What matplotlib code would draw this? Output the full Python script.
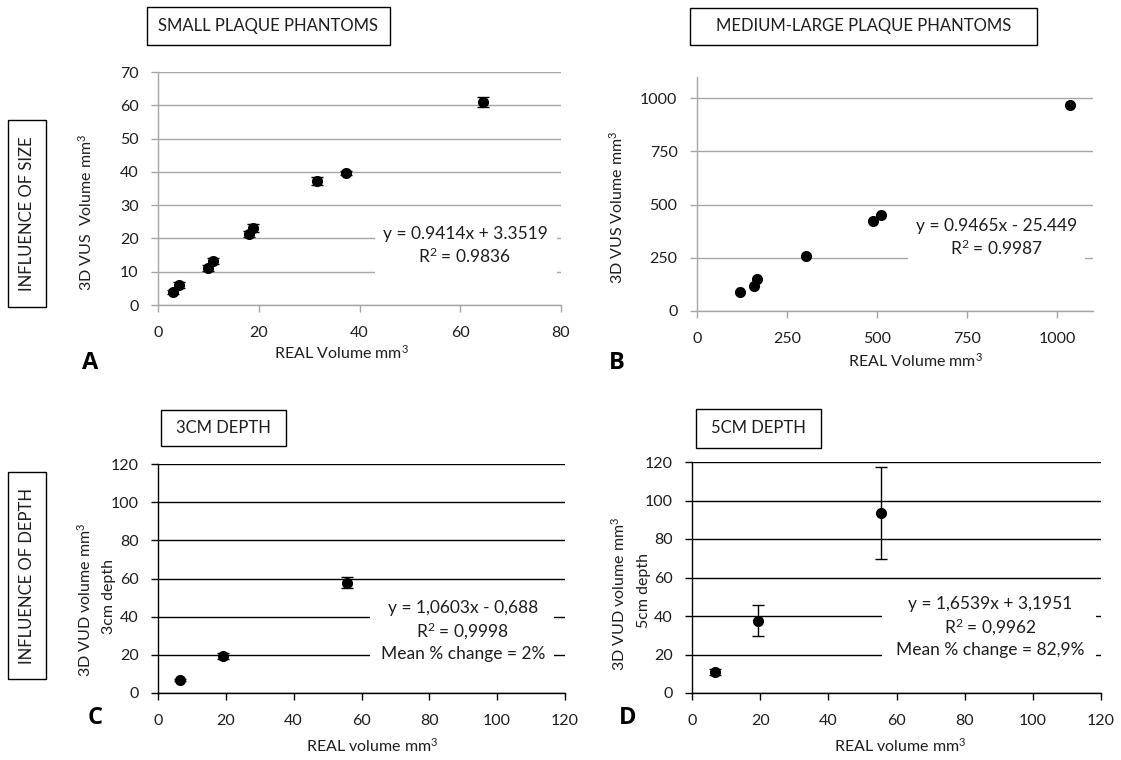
import numpy as np
import matplotlib
matplotlib.use("Agg")
import matplotlib.pyplot as plt
from matplotlib.patches import Rectangle

plt.rcParams['font.family'] = ['Lato', 'DejaVu Sans']
plt.rcParams['mathtext.fontset'] = 'custom'
plt.rcParams['mathtext.rm'] = 'Lato'
plt.rcParams['mathtext.it'] = 'Lato'
plt.rcParams['mathtext.default'] = 'regular'

# panel A: small plaque phantoms
a_real = [3.0, 4.2, 9.9, 11.0, 18.1, 18.9, 31.5, 37.4, 64.6]
a_vus = [4.0, 6.0, 11.2, 13.2, 21.3, 23.1, 37.3, 39.7, 60.9]
a_err = [0.6, 1.0, 0.9, 0.8, 0.9, 1.3, 1.3, 0.5, 1.5]

# panel B: medium-large plaque phantoms
b_real = [120, 158, 166, 302, 489, 512, 1036]
b_vus = [89, 118, 149, 257, 425, 450, 968]

# panel C: 3 cm depth
c_real = [6.4, 19.3, 55.6]
c_vud = [6.6, 19.2, 57.9]
c_err = [0.5, 1.5, 3.0]

# panel D: 5 cm depth
d_real = [6.8, 19.4, 55.4]
d_vud = [10.9, 37.5, 93.5]
d_err = [1.5, 8.0, 24.0]

W, H = 1121, 760
fig = plt.figure(figsize=(W / 100, H / 100), dpi=100)
TXT = '#1e1e1e'


def rect(l, t, r, b):
    return [l / W, 1 - b / H, (r - l) / W, (b - t) / H]


def pt(x, y):
    return x / W, 1 - y / H


def panel(box, xs, ys, err, xlim, xticks, ylim, yticks, gcol):
    ax = fig.add_axes(rect(*box))
    ax.set_xlim(*xlim)
    ax.set_ylim(*ylim)
    ax.set_xticks(xticks)
    ax.set_yticks(yticks)
    for y in yticks:
        ax.axhline(y, color=gcol, lw=1.0, zorder=1)
    for s in ['top', 'right']:
        ax.spines[s].set_visible(False)
    for s in ['left', 'bottom']:
        ax.spines[s].set_color(gcol)
        ax.spines[s].set_linewidth(1.0)
    ax.tick_params(axis='both', colors=gcol, labelcolor=TXT, length=5, width=1.0, labelsize=11.5)
    ax.tick_params(axis='y', pad=9)
    ax.tick_params(axis='x', pad=10)
    if err is None:
        ax.plot(xs, ys, 'o', color='black', ms=7, zorder=5, clip_on=False)
    else:
        ax.errorbar(xs, ys, yerr=err, fmt='o', color='black', ms=7, capsize=4,
                    elinewidth=1.0, capthick=1.0, zorder=5)
    return ax


axA = panel((158, 72, 561, 305), a_real, a_vus, a_err, (0, 80), np.arange(0, 81, 20),
            (0, 70), np.arange(0, 71, 10), '#a6a6a6')
axB = panel((697, 77, 1093, 311), b_real, b_vus, None, (0, 1100), np.arange(0, 1001, 250),
            (0, 1100), np.arange(0, 1001, 250), '#a6a6a6')
axC = panel((158, 464, 565, 693), c_real, c_vud, c_err, (0, 120), np.arange(0, 121, 20),
            (0, 120), np.arange(0, 121, 20), 'black')
axD = panel((692, 462, 1101, 693), d_real, d_vud, d_err, (0, 120), np.arange(0, 121, 20),
            (0, 120), np.arange(0, 121, 20), 'black')


def white(l, t, r, b):
    fig.patches.append(Rectangle(pt(l, b), (r - l) / W, (b - t) / H, transform=fig.transFigure,
                                 fc='white', ec='none', zorder=2))


def framed(l, t, r, b, text, rot=0, size=12):
    fig.patches.append(Rectangle(pt(l, b), (r - l) / W, (b - t) / H, transform=fig.transFigure,
                                 fc='white', ec='black', lw=1.0, zorder=2))
    x, y = pt((l + r) / 2, (t + b) / 2)
    fig.text(x, y, text, ha='center', va='center', rotation=rot, fontsize=size, color=TXT, zorder=3)


# trendline labels
white(375, 220, 557, 274)
fig.text(*pt(465, 246), 'y = 0.9414x + 3.3519\nR$^2$ = 0.9836', ha='center', va='center',
         fontsize=12.5, color=TXT, linespacing=1.3, zorder=3)
white(908, 212, 1085, 265)
fig.text(*pt(997, 238), 'y = 0.9465x - 25.449\nR$^2$ = 0.9987', ha='center', va='center',
         fontsize=12.5, color=TXT, linespacing=1.3, zorder=3)
white(370, 593, 554, 667)
fig.text(*pt(463, 631), 'y = 1,0603x - 0,688\nR$^2$ = 0,9998\nMean % change = 2%', ha='center',
         va='center', fontsize=12.5, color=TXT, linespacing=1.3, zorder=3)
white(882, 590, 1096, 663)
fig.text(*pt(990, 627), 'y = 1,6539x + 3,1951\nR$^2$ = 0,9962\nMean % change = 82,9%', ha='center',
         va='center', fontsize=12.5, color=TXT, linespacing=1.3, zorder=3)

# titles and side boxes
framed(147, 7, 390, 45, 'SMALL PLAQUE PHANTOMS')
framed(690, 8, 1037, 45, 'MEDIUM-LARGE PLAQUE PHANTOMS')
framed(161, 410, 286, 446, '3CM DEPTH')
framed(696, 409, 821, 448, '5CM DEPTH')
framed(8, 120, 46, 307, 'INFLUENCE OF SIZE', rot=90)
framed(8, 472, 46, 679, 'INFLUENCE OF DEPTH', rot=90)

# axis titles
lab = dict(ha='center', va='center', fontsize=11.5, color=TXT)
fig.text(*pt(86, 212), '3D VUS  Volume mm$^3$', rotation=90, **lab)
fig.text(*pt(617, 207), '3D VUS Volume mm$^3$', rotation=90, **lab)
fig.text(*pt(341, 353), 'REAL Volume mm$^3$', **lab)
fig.text(*pt(915, 361), 'REAL Volume mm$^3$', **lab)
fig.text(*pt(85, 600), '3D VUD volume mm$^3$', rotation=90, **lab)
fig.text(*pt(109, 597), '3cm depth', rotation=90, **lab)
fig.text(*pt(619, 594), '3D VUD volume mm$^3$', rotation=90, **lab)
fig.text(*pt(644, 590), '5cm depth', rotation=90, **lab)
fig.text(*pt(372, 746), 'REAL volume mm$^3$', **lab)
fig.text(*pt(900, 746), 'REAL volume mm$^3$', **lab)

# panel letters
for letter, x, y in [('A', 90, 363), ('B', 617, 363), ('C', 95, 718), ('D', 628, 718)]:
    fig.text(*pt(x, y), letter, ha='center', va='center', fontsize=17, fontweight='bold',
             family=['Open Sans', 'DejaVu Sans'], color='black')

fig.savefig('out.png', dpi=100)
